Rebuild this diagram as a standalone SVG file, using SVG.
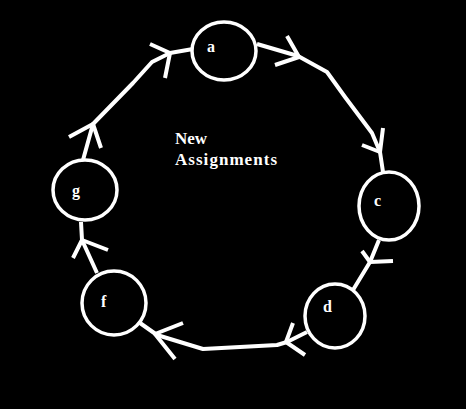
<svg xmlns="http://www.w3.org/2000/svg" width="466" height="409" viewBox="0 0 466 409">
<style>
.node ellipse{fill:#000;stroke:#fff;stroke-width:3.5}
.node text{fill:#fff;font-family:"Liberation Serif",serif;font-weight:bold;font-size:16px}
.conn path{fill:none;stroke:#fff;stroke-width:4;stroke-linejoin:round;stroke-linecap:butt}
.title{fill:#fff;font-family:"Liberation Serif",serif;font-weight:bold;font-size:17px}
</style>
<rect width="466" height="409" fill="#000"/>
<g id="connectors" class="conn">
<path d="M257,44 L298,56 L327,72 L345,97 L372,133 L380,152 L383,172"/>
<path d="M287,36 L299,57 L275,65"/>
<path d="M362,145 L380,152 L383,128"/>
<path d="M379,240 L370,262 L353,290"/>
<path d="M362,251 L370,262 L393,261"/>
<path d="M307,332 L287,342 L277,345 L203,349 L157,335 L140,323"/>
<path d="M293,323 L286,342 L305,355"/>
<path d="M183,323 L155,334 L175,359"/>
<path d="M97,273 L82,240 L81,222"/>
<path d="M73,258 L82,240 L108,250"/>
<path d="M83,160 L93,124 L133,83 L152,62 L170,53 L193,49"/>
<path d="M69,137 L93,124 L101,148"/>
<path d="M150,44 L170,53 L165,78"/>
</g>
<g id="node-a" class="node"><ellipse cx="224" cy="51" rx="32" ry="29"/><text x="207" y="52">a</text></g>
<g id="node-c" class="node"><ellipse cx="389" cy="206" rx="30" ry="34"/><text x="374" y="206">c</text></g>
<g id="node-d" class="node"><ellipse cx="335" cy="316" rx="30" ry="32"/><text x="323" y="312">d</text></g>
<g id="node-f" class="node"><ellipse cx="114" cy="303" rx="32" ry="32"/><text x="101" y="307">f</text></g>
<g id="node-g" class="node"><ellipse cx="85" cy="190" rx="32" ry="30"/><text x="72" y="196">g</text></g>
<g id="label"><text class="title" x="175" y="144">New</text><text class="title" x="175" y="165" textLength="102" lengthAdjust="spacing">Assignments</text></g>
</svg>
